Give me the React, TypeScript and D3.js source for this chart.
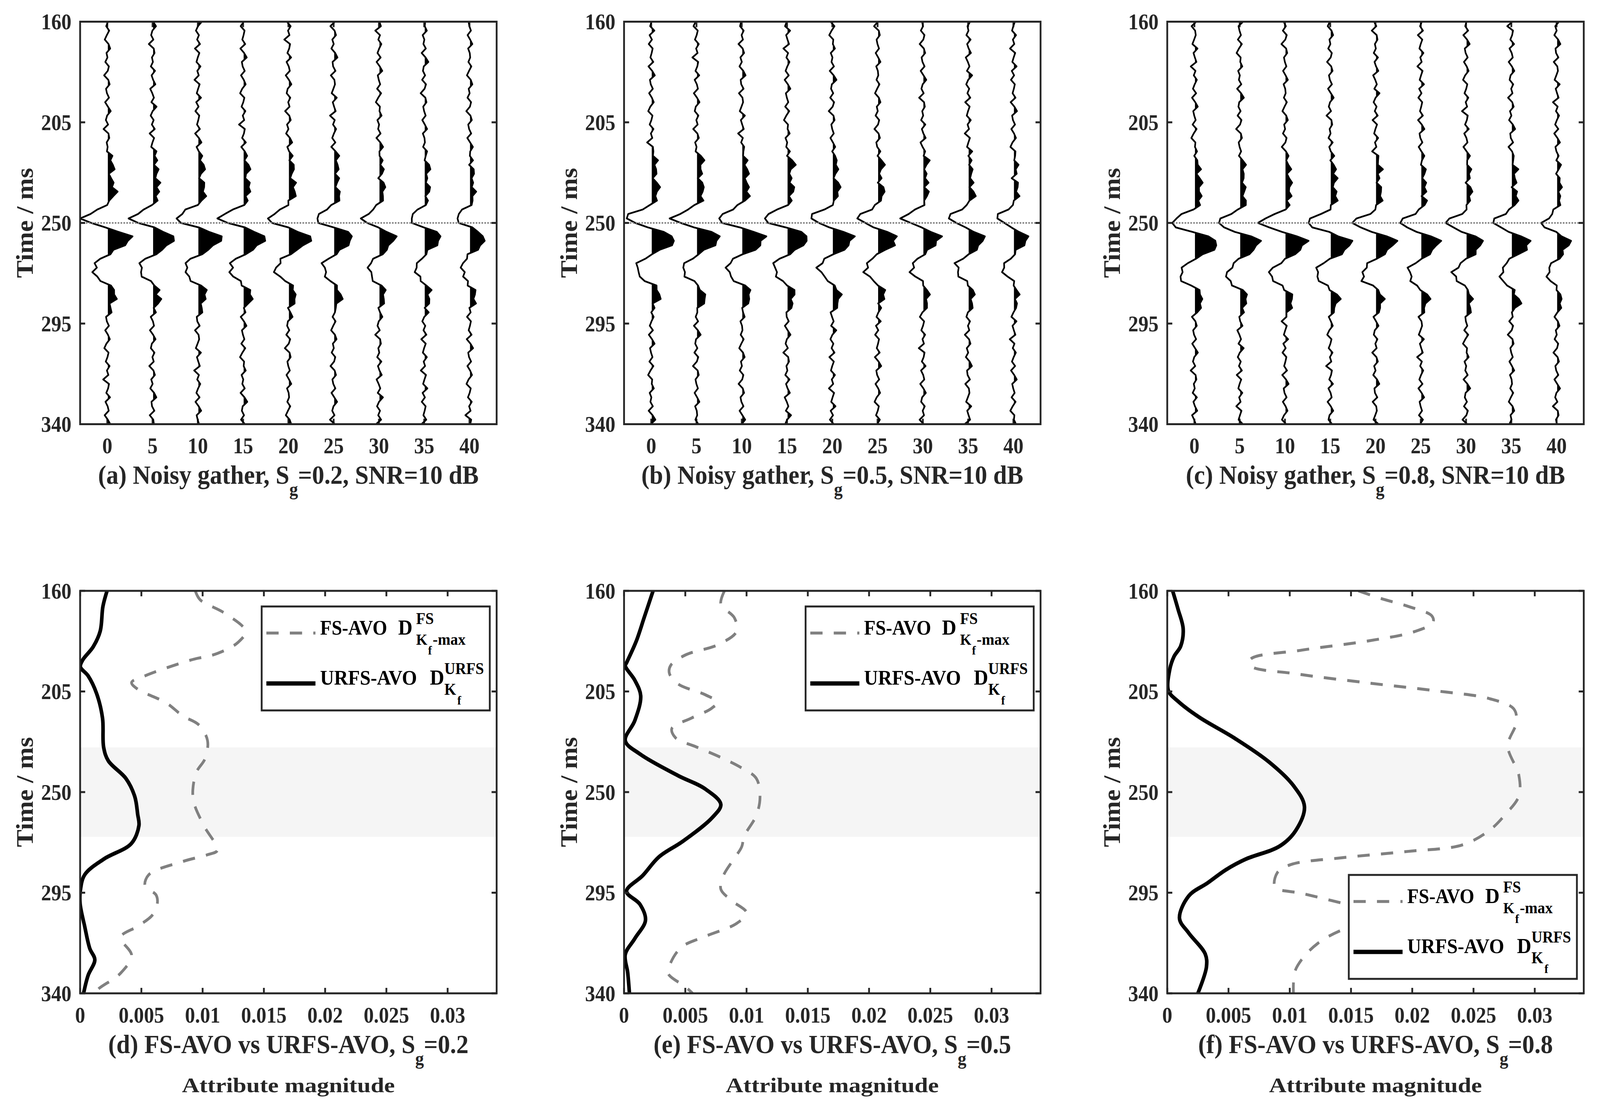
import * as d3 from "d3";

const W = 4433;
const H = 2838;
const FONT = "'Liberation Serif', 'Times New Roman', serif";
const INK = "#262626";
const GRAY = "#808080";

// panel geometry (px)
const COL_X = [222, 1729, 3234];
const PANEL_W = 1154;
const ROW_Y = [55.5, 1512];
const PANEL_H = 1030;

const OFFSETS = [0, 5, 10, 15, 20, 25, 30, 35, 40];
const TIME_TICKS = [160, 205, 250, 295, 340];
const ATTR_TICKS = [0, 0.005, 0.01, 0.015, 0.02, 0.025, 0.03];
const ATTR_LABELS = ["0", "0.005", "0.01", "0.015", "0.02", "0.025", "0.03"];
const TOP_LETTERS = ["a", "b", "c"];
const BOTTOM_LETTERS = ["d", "e", "f"];
const SG_VALUES = ["0.2", "0.5", "0.8"];

// normalized wavelet, 2 ms step starting at 216 ms
const WAVELET_START = 216;
const WAVELET = [
  0.0, 0.06, 0.12, 0.18, 0.22, 0.2, 0.17, 0.18, 0.22, 0.26,
  0.28, 0.26, 0.17, -0.05, -0.38, -0.78, -1.0, -0.72, -0.08, 0.55,
  1.0, 0.93, 0.75, 0.42, 0.06, -0.3, -0.48, -0.56, -0.55, -0.44,
  -0.18, 0.1, 0.28, 0.34, 0.33, 0.22, 0.1, 0.03, 0.0,
];
const EVENT_SHIFT = [0, 0, 2];

// peak / trough amplitude per offset (trace units)
const PEAK_A = [2.5, 2.35, 2.6, 2.41, 2.32, 2.06, 1.75, 1.82, 1.68];
const TROUGH_A = [2.68, 2.35, 2.44, 2.59, 2.29, 1.97, 1.85, 1.56, 1.47];
const PEAK_B = [2.51, 2.54, 2.54, 2.3, 2.3, 1.98, 1.77, 1.71, 1.45];
const TROUGH_B = [2.8, 2.57, 2.78, 2.6, 2.42, 2.3, 2.13, 2.2, 1.83];
const PEAK_C = [2.52, 2.1, 2.3, 2.25, 2.14, 1.93, 1.72, 1.99, 1.4];
const TROUGH_C = [2.7, 2.46, 2.8, 2.67, 2.52, 2.3, 2.2, 2.08, 1.66];
const PEAKS = [PEAK_A, PEAK_B, PEAK_C];
const TROUGHS = [TROUGH_A, TROUGH_B, TROUGH_C];

// additive noise, 2 ms step
const NOISE = [
  0.08, -0.12, 0.21, -0.05, -0.28, 0.14, 0.32, -0.09, 0.02, -0.22,
  0.18, 0.05, -0.35, 0.11, 0.26, -0.14, -0.04, 0.19, -0.24, 0.07,
  0.38, -0.02, -0.16, 0.09, -0.41, 0.13, 0.22, -0.07, 0.04, -0.19,
  0.27, -0.11, 0.06, 0.31, -0.26, -0.03, 0.15, -0.13, 0.44, 0.01,
  -0.21, 0.12, -0.08, 0.24, -0.32, 0.17, -0.01, -0.15, 0.29, -0.06,
  0.1, -0.37, 0.2, 0.03, -0.12, 0.35, -0.18, 0.08, -0.27, 0.16,
  0.05, -0.09, 0.23, -0.3, 0.11, 0.4, -0.14, -0.05, 0.18, -0.23,
  0.07, 0.28, -0.1, -0.33, 0.14, 0.02, -0.17, 0.25, -0.04, 0.12,
  -0.45, 0.19, 0.09, -0.11, 0.3, -0.2, 0.04, 0.16, -0.29, 0.06,
  0.33, -0.08, -0.19, 0.21, -0.02, 0.13, -0.36, 0.1, 0.26, -0.15,
  0.01, -0.25, 0.17, 0.42, -0.12, -0.06, 0.2, -0.31, 0.08, 0.15,
  -0.03, -0.22, 0.34, -0.1, 0.05, 0.22, -0.4, 0.12, -0.07, 0.27,
  0.03, -0.16, 0.19, -0.26, 0.09, 0.37, -0.13, -0.02, 0.14, -0.2,
  0.24, -0.08, -0.34, 0.11, 0.06, 0.29, -0.17, 0.02, -0.09, 0.18,
  -0.28, 0.15, 0.46, -0.05, -0.14, 0.1, -0.23, 0.2, 0.04, -0.39,
  0.13, 0.25, -0.11, -0.01, 0.16, -0.21, 0.07, 0.32, -0.15, 0.03,
];

// attribute curves: [time ms, magnitude]
const D_URFS: [number, number][] = [
  [160, 0.0022], [167, 0.00186], [178, 0.00164], [185, 0.00107], [191, 0.0002],
  [194, 0.00002], [198, 0.00065], [206, 0.00135], [217, 0.00183], [230, 0.00192],
  [236, 0.0023], [244, 0.00375], [252, 0.00446], [260, 0.0047], [265, 0.0048],
  [273, 0.00418], [280, 0.00192], [287, 0.00037], [294, 0.00002], [300, 0.0],
  [310, 0.00037], [320, 0.00079], [325, 0.0012], [332, 0.00065], [340, 0.00028],
];
const D_FS: [number, number][] = [
  [160, 0.0094], [164, 0.0098], [170, 0.0118], [178, 0.0135], [183, 0.0129],
  [188, 0.0112], [191, 0.009], [198, 0.0053], [201, 0.0042], [204, 0.0047],
  [210, 0.007], [216, 0.0084], [220, 0.0097], [227, 0.0104], [235, 0.0102],
  [241, 0.0095], [249, 0.0092], [255, 0.0093], [265, 0.0101], [276, 0.0112],
  [278, 0.0104], [281, 0.0084], [287, 0.0056], [292, 0.0053], [296, 0.0062],
  [300, 0.0063], [305, 0.0059], [310, 0.0047], [315, 0.0033], [323, 0.0042],
  [331, 0.0033], [338, 0.0015], [340, 0.0012],
];
const E_URFS: [number, number][] = [
  [160, 0.00237], [172, 0.00164], [182.6, 0.00099], [192, 0.00022], [193.5, 0.0001],
  [200, 0.00088], [207, 0.00136], [218, 0.00088], [227, 0.0001], [233, 0.0013],
  [242.6, 0.0044], [248.5, 0.0066], [255.5, 0.0079], [261.4, 0.0072], [272, 0.0048],
  [279, 0.00285], [287.3, 0.00153], [294.4, 0.0002], [300.2, 0.0013], [307.3, 0.00175],
  [315.5, 0.00088], [322.6, 0.0001], [330.8, 0.0003], [340, 0.00044],
];
const E_FS: [number, number][] = [
  [160, 0.0082], [166, 0.0079], [172, 0.009], [178, 0.0092], [184, 0.0077],
  [188.7, 0.005], [193.4, 0.0038], [196.9, 0.0037], [201.6, 0.0044], [206.4, 0.0066],
  [209.8, 0.0076], [212.7, 0.0071], [216.9, 0.0055], [221.6, 0.0039], [225.7, 0.0042],
  [229.8, 0.0059], [234.5, 0.0079], [239.2, 0.0096], [243.9, 0.0108], [252.1, 0.0111],
  [260.4, 0.0108], [269.8, 0.0098], [274.5, 0.0096], [280.4, 0.0089], [287.5, 0.0081],
  [293.4, 0.0079], [298.6, 0.0088], [304, 0.01], [308.7, 0.0092], [314.6, 0.0066],
  [319.3, 0.0047], [326.4, 0.0038], [331.1, 0.0036], [337, 0.005], [340, 0.0056],
];
const F_URFS: [number, number][] = [
  [160, 0.00044], [168.2, 0.00088], [177, 0.0013], [184.7, 0.0011], [189.4, 0.00055],
  [195.3, 0.0002], [204.7, 0.0001], [209.4, 0.00088], [216.5, 0.0026], [225.9, 0.0055],
  [236.5, 0.0083], [247.1, 0.0103], [256.5, 0.0112], [267.1, 0.0105], [274.1, 0.0092],
  [280, 0.0064], [284.7, 0.0048], [290.6, 0.0033], [296.5, 0.00175], [306.5, 0.001],
  [313, 0.00175], [322.4, 0.0031], [328.2, 0.0032], [340, 0.0025],
];
const F_FS: [number, number][] = [
  [160, 0.0156], [163.5, 0.0175], [167, 0.0197], [171.2, 0.0216], [174.1, 0.0217],
  [178.2, 0.0202], [182.4, 0.0164], [186.5, 0.011], [190.6, 0.0068], [193.5, 0.0068],
  [197.1, 0.0105], [201.2, 0.0164], [204.7, 0.0219], [208.2, 0.0263], [212.9, 0.0283],
  [218.8, 0.0285], [229.4, 0.0278], [242.4, 0.0287], [251.8, 0.0287], [260, 0.0276],
  [267.1, 0.0263], [273.6, 0.0241], [276.5, 0.0197], [279.4, 0.0142], [282.4, 0.0101],
  [285.9, 0.009], [292.4, 0.0088], [295.3, 0.011], [300.6, 0.0149], [304.5, 0.0172],
  [308.5, 0.0163], [311.8, 0.0142], [317.6, 0.0123], [324.7, 0.011], [330.6, 0.0104],
  [340, 0.0103],
];
const URFS_CURVES = [D_URFS, E_URFS, F_URFS];
const FS_CURVES = [D_FS, E_FS, F_FS];
const LEGEND_AT_BOTTOM = [false, false, true];

const TICK = 14;
const LEG_W = 632;
const LEG_H = 266;
const DASH = "34 31";

function YAxis({ x0, y }: { x0: number; y: d3.ScaleLinear<number, number> }) {
  return (
    <g>
      {TIME_TICKS.map((t) => (
        <g key={t}>
          <line x1={x0} x2={x0 + TICK} y1={y(t)} y2={y(t)} stroke={INK} strokeWidth={5} />
          <line x1={x0 + PANEL_W} x2={x0 + PANEL_W - TICK} y1={y(t)} y2={y(t)} stroke={INK} strokeWidth={5} />
          <text x={x0 - 24} y={y(t)} dy="0.35em" textAnchor="end" fontSize={56} fontWeight="bold" fill={INK}>
            {t}
          </text>
        </g>
      ))}
      <text
        transform={`translate(${x0 - 131},${y.range()[0] + PANEL_H / 2}) rotate(-90)`}
        textAnchor="middle"
        fontSize={67}
        fontWeight="bold"
        fill={INK}
      >
        Time / ms
      </text>
    </g>
  );
}

function GatherPanel({ col }: { col: number }) {
  const x0 = COL_X[col];
  const y0 = ROW_Y[0];
  const x = d3.scaleLinear().domain([-3, 43]).range([x0, x0 + PANEL_W]);
  const y = d3.scaleLinear().domain([160, 340]).range([y0, y0 + PANEL_H]);
  const times = d3.range(160, 341, 2);
  const peak = PEAKS[col];
  const trough = TROUGHS[col];
  const shift = EVENT_SHIFT[col];

  const traces = OFFSETS.map((off, i) =>
    times.map((t, k) => {
      const n = NOISE[(k + i * 19 + col * 53) % NOISE.length];
      const wi = (t - shift - WAVELET_START) / 2;
      const w = wi >= 0 && wi < WAVELET.length ? WAVELET[wi] : 0;
      const v = n + (w > 0 ? w * peak[i] : w * trough[i]);
      return { t, v: off + v, base: off };
    })
  );
  const line = d3
    .line<{ t: number; v: number }>()
    .x((d) => x(d.v))
    .y((d) => y(d.t));
  const area = d3
    .area<{ t: number; v: number; base: number }>()
    .x0((d) => x(d.base))
    .x1((d) => x(d.v))
    .y((d) => y(d.t));

  const bottom = y0 + PANEL_H;
  return (
    <g>
      <defs>
        <clipPath id={`ax-g${col}`}>
          <rect x={x0} y={y0} width={PANEL_W} height={PANEL_H} />
        </clipPath>
        {OFFSETS.map((off, i) => (
          <clipPath key={i} id={`pos-${col}-${i}`}>
            <rect x={x(off) + 1.5} y={y0} width={x0 + PANEL_W - x(off)} height={PANEL_H} />
          </clipPath>
        ))}
      </defs>
      {OFFSETS.map((off) => (
        <g key={off}>
          <line x1={x(off)} x2={x(off)} y1={y0} y2={y0 + TICK} stroke={INK} strokeWidth={5} />
          <line x1={x(off)} x2={x(off)} y1={bottom} y2={bottom - TICK} stroke={INK} strokeWidth={5} />
          <text x={x(off)} y={bottom + 75} textAnchor="middle" fontSize={56} fontWeight="bold" fill={INK}>
            {off}
          </text>
        </g>
      ))}
      <g clipPath={`url(#ax-g${col})`}>
        {traces.map((tr, i) => (
          <g key={i}>
            <path d={area(tr) ?? ""} fill="#000" clipPath={`url(#pos-${col}-${i})`} />
            <path d={line(tr) ?? ""} fill="none" stroke="#000" strokeWidth={4.5} strokeLinejoin="round" />
          </g>
        ))}
        <line
          x1={x0}
          x2={x0 + PANEL_W}
          y1={y(250)}
          y2={y(250)}
          stroke={GRAY}
          strokeWidth={4}
          strokeDasharray="4.5 3.5"
        />
      </g>
      <YAxis x0={x0} y={y} />
      <rect x={x0} y={y0} width={PANEL_W} height={PANEL_H} fill="none" stroke={INK} strokeWidth={5} />
      <text x={x0 + PANEL_W / 2} y={bottom + 153} textAnchor="middle" fontSize={68} fontWeight="bold" fill={INK}>
        {`(${TOP_LETTERS[col]}) Noisy gather, S`}
        <tspan fontSize={48} dy={30}>
          g
        </tspan>
        <tspan dy={-30}>{`=${SG_VALUES[col]}, SNR=10 dB`}</tspan>
      </text>
    </g>
  );
}

function Legend({ lx, ly }: { lx: number; ly: number }) {
  return (
    <g fontWeight="bold" fill="#000">
      <rect x={lx} y={ly} width={LEG_W} height={LEG_H} fill="#fff" stroke={INK} strokeWidth={5} />
      <line x1={lx + 13} x2={lx + 149} y1={ly + 68} y2={ly + 68} stroke={GRAY} strokeWidth={7.5} strokeDasharray={DASH} />
      <text x={lx + 162} y={ly + 72} fontSize={52}>FS-AVO</text>
      <text x={lx + 378} y={ly + 72} fontSize={55}>D</text>
      <text x={lx + 428} y={ly + 45} fontSize={42}>FS</text>
      <text x={lx + 428} y={ly + 98} fontSize={40}>K</text>
      <text x={lx + 461} y={ly + 123} fontSize={32}>f</text>
      <text x={lx + 474} y={ly + 98} fontSize={42}>-max</text>
      <line x1={lx + 13} x2={lx + 149} y1={ly + 197} y2={ly + 197} stroke="#000" strokeWidth={11} />
      <text x={lx + 162} y={ly + 200} fontSize={53.5}>URFS-AVO</text>
      <text x={lx + 466} y={ly + 200} fontSize={55}>D</text>
      <text x={lx + 506} y={ly + 173} fontSize={42}>URFS</text>
      <text x={lx + 506} y={ly + 226} fontSize={42}>K</text>
      <text x={lx + 542} y={ly + 251} fontSize={32}>f</text>
    </g>
  );
}

function AttributePanel({ col }: { col: number }) {
  const x0 = COL_X[col];
  const y0 = ROW_Y[1];
  const bottom = y0 + PANEL_H;
  const x = d3.scaleLinear().domain([0, 0.034]).range([x0, x0 + PANEL_W]);
  const y = d3.scaleLinear().domain([160, 340]).range([y0, bottom]);
  const line = d3
    .line<[number, number]>()
    .x((d) => x(d[1]))
    .y((d) => y(d[0]))
    .curve(d3.curveCatmullRom.alpha(0.5));
  const lx = x0 + PANEL_W - 19 - LEG_W;
  const ly = LEGEND_AT_BOTTOM[col] ? bottom - 37 - LEG_H : y0 + 40;

  return (
    <g>
      <defs>
        <clipPath id={`ax-a${col}`}>
          <rect x={x0} y={y0} width={PANEL_W} height={PANEL_H} />
        </clipPath>
      </defs>
      <rect x={x0} y={y(230)} width={PANEL_W} height={y(270) - y(230)} fill="#f5f5f5" />
      {ATTR_TICKS.map((v, i) => (
        <g key={v}>
          <line x1={x(v)} x2={x(v)} y1={y0} y2={y0 + TICK} stroke={INK} strokeWidth={5} />
          <line x1={x(v)} x2={x(v)} y1={bottom} y2={bottom - TICK} stroke={INK} strokeWidth={5} />
          <text x={x(v)} y={bottom + 75} textAnchor="middle" fontSize={56} fontWeight="bold" fill={INK}>
            {ATTR_LABELS[i]}
          </text>
        </g>
      ))}
      <g clipPath={`url(#ax-a${col})`}>
        <path d={line(FS_CURVES[col]) ?? ""} fill="none" stroke={GRAY} strokeWidth={7.5} strokeDasharray={DASH} />
        <path d={line(URFS_CURVES[col]) ?? ""} fill="none" stroke="#000" strokeWidth={10} strokeLinejoin="round" />
      </g>
      <YAxis x0={x0} y={y} />
      <rect x={x0} y={y0} width={PANEL_W} height={PANEL_H} fill="none" stroke={INK} strokeWidth={5} />
      <Legend lx={lx} ly={ly} />
      <text x={x0 + PANEL_W / 2} y={bottom + 153} textAnchor="middle" fontSize={68} fontWeight="bold" fill={INK}>
        {`(${BOTTOM_LETTERS[col]}) FS-AVO vs URFS-AVO, S`}
        <tspan fontSize={48} dy={30}>
          g
        </tspan>
        <tspan dy={-30}>{`=${SG_VALUES[col]}`}</tspan>
      </text>
      <text
        x={x0 + PANEL_W / 2}
        y={bottom + 253}
        textAnchor="middle"
        fontSize={52}
        fontWeight="bold"
        fill={INK}
        textLength={590}
        lengthAdjust="spacingAndGlyphs"
      >
        Attribute magnitude
      </text>
    </g>
  );
}

export default function App() {
  // the browser viewport may be narrower than the design width, so the
  // drawing is stretched to fill whatever viewport is available
  return (
    <svg
      viewBox={`0 0 ${W} ${H}`}
      preserveAspectRatio="none"
      style={{ position: "absolute", left: 0, top: 0, width: "100vw", height: "100vh", background: "#fff" }}
      fontFamily={FONT}
    >
      <rect width={W} height={H} fill="#fff" />
      {[0, 1, 2].map((c) => (
        <GatherPanel key={`g${c}`} col={c} />
      ))}
      {[0, 1, 2].map((c) => (
        <AttributePanel key={`a${c}`} col={c} />
      ))}
    </svg>
  );
}
